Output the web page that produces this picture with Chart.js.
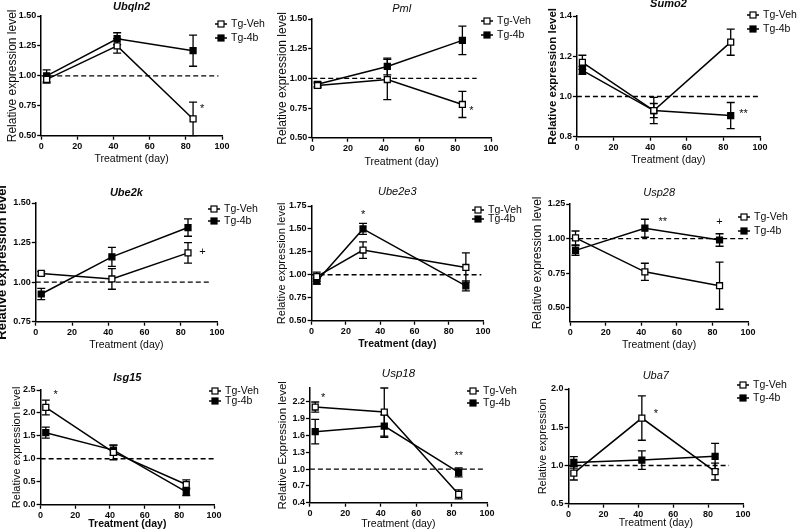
<!DOCTYPE html>
<html>
<head>
<meta charset="utf-8">
<script src="https://cdn.jsdelivr.net/npm/chart.js@4.4.1/dist/chart.umd.min.js"></script>
<style>
  html, body { margin: 0; padding: 0; background: #fff; }
  #fig { position: relative; width: 800px; height: 532px; overflow: hidden; background: #fff; }
  #fig canvas { position: absolute; }
</style>
</head>
<body>
<div id="fig"></div>
<script>
'use strict';

// Sampling days (x values).
const days = [3, 42, 84];
const daysUbe2e3 = [3, 30, 90];
const xTicks = [0, 20, 40, 60, 80, 100];
const seriesLabels = ['Tg-Veh', 'Tg-4b'];

// Means and SEM.
const ubqln2Veh = [0.97, 1.25, 0.64];
const ubqln2VehSem = [0.03, 0.06, 0.14];
const ubqln2Tg4b = [1.00, 1.31, 1.21];
const ubqln2Tg4bSem = [0.05, 0.05, 0.13];
const ubqln2Ticks = [0.5, 0.75, 1.0, 1.25, 1.5];
const ubqln2Marks = [{x: 89, y: 0.75, text: '*'}];

const pmlVeh = [0.94, 0.99, 0.78];
const pmlVehSem = [0.02, 0.17, 0.11];
const pmlTg4b = [0.95, 1.10, 1.32];
const pmlTg4bSem = [0.02, 0.07, 0.12];
const pmlTicks = [0.5, 0.75, 1.0, 1.25, 1.5];
const pmlMarks = [{x: 89, y: 0.75, text: '*'}];

const sumo2Veh = [1.17, 0.93, 1.27];
const sumo2VehSem = [0.035, 0.035, 0.065];
const sumo2Tg4b = [1.13, 0.93, 0.905];
const sumo2Tg4bSem = [0.02, 0.065, 0.065];
const sumo2Ticks = [0.8, 1.0, 1.2, 1.4];
const sumo2Marks = [{x: 91, y: 0.93, text: '**'}];

const ube2kVeh = [1.055, 1.02, 1.185];
const ube2kVehSem = [0.012, 0.065, 0.065];
const ube2kTg4b = [0.925, 1.16, 1.345];
const ube2kTg4bSem = [0.035, 0.06, 0.055];
const ube2kTicks = [0.75, 1.0, 1.25, 1.5];
const ube2kMarks = [{x: 92, y: 1.19, text: '+'}];

const ube2e3Veh = [0.98, 1.27, 1.08];
const ube2e3VehSem = [0.05, 0.09, 0.16];
const ube2e3Tg4b = [0.93, 1.50, 0.88];
const ube2e3Tg4bSem = [0.03, 0.06, 0.055];
const ube2e3Ticks = [0.5, 0.75, 1.0, 1.25, 1.5, 1.75];
const ube2e3Marks = [{x: 30, y: 1.69, text: '*'}];

const usp28Veh = [1.005, 0.76, 0.66];
const usp28VehSem = [0.05, 0.062, 0.17];
const usp28Tg4b = [0.915, 1.075, 0.99];
const usp28Tg4bSem = [0.035, 0.065, 0.045];
const usp28Ticks = [0.5, 0.75, 1.0, 1.25];
const usp28Marks = [{x: 52, y: 1.14, text: '**'}, {x: 84, y: 1.12, text: '+'}];

const isg15Veh = [2.12, 1.14, 0.44];
const isg15VehSem = [0.16, 0.16, 0.10];
const isg15Tg4b = [1.57, 1.19, 0.28];
const isg15Tg4bSem = [0.12, 0.11, 0.08];
const isg15Ticks = [0.0, 0.5, 1.0, 1.5, 2.0, 2.5];
const isg15Marks = [{x: 8.7, y: 2.45, text: '*'}];

const usp18Veh = [2.11, 2.02, 0.55];
const usp18VehSem = [0.09, 0.43, 0.08];
const usp18Tg4b = [1.67, 1.77, 0.94];
const usp18Tg4bSem = [0.22, 0.2, 0.08];
const usp18Ticks = [0.4, 0.7, 1.0, 1.3, 1.6, 1.9, 2.2];
const usp18Marks = [{x: 7.5, y: 2.33, text: '*'}, {x: 84, y: 1.29, text: '**'}];

const uba7Veh = [0.90, 1.62, 0.92];
const uba7VehSem = [0.09, 0.29, 0.11];
const uba7Tg4b = [1.04, 1.07, 1.12];
const uba7Tg4bSem = [0.075, 0.12, 0.17];
const uba7Ticks = [0.5, 1.0, 1.5, 2.0];
const uba7Marks = [{x: 50, y: 1.71, text: '*'}];

const FONT = '"Liberation Sans", Arial, sans-serif';
const INK = '#0a0a0a';
Chart.defaults.font.family = FONT;
Chart.defaults.color = INK;

/**
 * Error bars, drawn under the markers.
 */
const errorBars = {
    id: 'errorBars',
    beforeDatasetsDraw(chart) {
        const {ctx, scales: {x, y}} = chart;
        ctx.save();
        ctx.strokeStyle = '#000';
        ctx.lineWidth = 1.3;
        chart.data.datasets.forEach((ds) => {
            if (!ds.sem) {
                return;
            }
            ds.data.forEach((p, i) => {
                const px = x.getPixelForValue(p.x);
                const top = y.getPixelForValue(p.y + ds.sem[i]);
                const bot = y.getPixelForValue(p.y - ds.sem[i]);
                ctx.beginPath();
                ctx.moveTo(px, top);
                ctx.lineTo(px, bot);
                ctx.moveTo(px - 4, top);
                ctx.lineTo(px + 4, top);
                ctx.moveTo(px - 4, bot);
                ctx.lineTo(px + 4, bot);
                ctx.stroke();
            });
        });
        ctx.restore();
    },
};

/**
 * Gene title, legend and significance marks.
 */
const panelText = {
    id: 'panelText',
    afterDraw(chart, args, opts) {
        const {ctx, chartArea, scales: {x, y}} = chart;
        ctx.save();
        ctx.fillStyle = INK;
        ctx.textBaseline = 'middle';

        // Title.
        ctx.textAlign = 'center';
        ctx.font = opts.titleFont + ' ' + FONT;
        ctx.fillText(opts.title, (chartArea.left + chartArea.right) / 2, chartArea.top - opts.titleDy);

        // Legend.
        const lx = x.getPixelForValue(100) + opts.legendDx;
        let ly = chartArea.top + opts.legendDy;
        ctx.textAlign = 'left';
        ctx.font = '10.5px ' + FONT;
        seriesLabels.forEach((label, i) => {
            ctx.strokeStyle = '#000';
            ctx.lineWidth = 1.5;
            ctx.beginPath();
            ctx.moveTo(lx - 6, ly);
            ctx.lineTo(lx + 6, ly);
            ctx.stroke();
            ctx.fillStyle = i === 0 ? '#fff' : '#000';
            ctx.fillRect(lx - 3, ly - 3, 6, 6);
            ctx.lineWidth = 1.2;
            ctx.strokeRect(lx - 3, ly - 3, 6, 6);
            ctx.fillStyle = INK;
            ctx.fillText(label, lx + 10, ly);
            ly += opts.legendGap;
        });

        // Significance marks.
        ctx.textAlign = 'center';
        ctx.font = '11px ' + FONT;
        opts.marks.forEach((m) => {
            const shift = m.text.indexOf('*') >= 0 ? 3 : 0;
            ctx.fillText(m.text, x.getPixelForValue(m.x), y.getPixelForValue(m.y) + shift);
        });
        ctx.restore();
    },
};

const toPoints = (xs, ys) => xs.map((d, i) => ({x: d, y: ys[i]}));

/**
 * Build one panel: a canvas placed so its plot area lands where the figure has it.
 *
 * @param {Object} p Panel setup.
 */
const makePanel = (p) => {
    const yTitleLh = p.yTitleSize * 1.2;
    const xTitleLh = 10.5 * 1.2;
    const left = p.yTitleGap + yTitleLh / 2;
    const top = 22;
    const right = 70;
    const bottom = p.xTitleGap + xTitleLh / 2;

    const canvas = document.createElement('canvas');
    canvas.width = Math.round(left + (p.x100 - p.x0) + right);
    canvas.height = Math.round(top + (p.yBot - p.yTop) + bottom);
    canvas.style.left = (p.x0 - left) + 'px';
    canvas.style.top = (p.yTop - top) + 'px';
    document.getElementById('fig').appendChild(canvas);

    const decimals = p.decimals;
    new Chart(canvas, {
        type: 'line',
        data: {
            datasets: [
                {
                    label: seriesLabels[0],
                    data: toPoints(p.days, p.veh),
                    sem: p.vehSem,
                    borderColor: '#000',
                    borderWidth: 1.5,
                    pointStyle: 'rect',
                    pointRadius: 4.2,
                    pointBorderWidth: 1.3,
                    pointBackgroundColor: '#fff',
                    pointBorderColor: '#000',
                    clip: false,
                },
                {
                    label: seriesLabels[1],
                    data: toPoints(p.days, p.tg4b),
                    sem: p.tg4bSem,
                    borderColor: '#000',
                    borderWidth: 1.5,
                    pointStyle: 'rect',
                    pointRadius: 4.2,
                    pointBorderWidth: 1.3,
                    pointBackgroundColor: '#000',
                    pointBorderColor: '#000',
                    clip: false,
                },
                {
                    label: 'baseline',
                    data: [{x: 0, y: 1}, {x: p.dashEnd, y: 1}],
                    borderColor: '#000',
                    borderWidth: 1.4,
                    borderDash: [5, 3],
                    pointRadius: 0,
                },
            ],
        },
        options: {
            responsive: false,
            animation: false,
            events: [],
            devicePixelRatio: 1,
            layout: {padding: {left: 0, top: top, right: right, bottom: 0}},
            scales: {
                x: {
                    type: 'linear',
                    min: 0,
                    max: 100,
                    afterBuildTicks: (scale) => {
                        scale.ticks = xTicks.map((v) => ({value: v}));
                    },
                    afterFit: (scale) => {
                        scale.height = bottom;
                    },
                    grid: {drawOnChartArea: false, drawTicks: true, tickLength: 4, tickColor: '#000', tickWidth: 1.3},
                    border: {color: '#000', width: 1.5},
                    ticks: {font: {size: 9, weight: 'bold'}, padding: 1, maxRotation: 0, color: INK},
                    title: {
                        display: true,
                        text: 'Treatment (day)',
                        font: {size: 10.5, weight: p.xTitleWeight},
                        padding: 0,
                        color: INK,
                    },
                },
                y: {
                    type: 'linear',
                    min: p.yMin,
                    max: p.yMax,
                    afterBuildTicks: (scale) => {
                        scale.ticks = p.yTicks.map((v) => ({value: v}));
                    },
                    afterFit: (scale) => {
                        scale.width = left;
                    },
                    grid: {drawOnChartArea: false, drawTicks: true, tickLength: 4, tickColor: '#000', tickWidth: 1.3},
                    border: {color: '#000', width: 1.5},
                    ticks: {
                        font: {size: 9, weight: 'bold'},
                        padding: 1,
                        color: INK,
                        callback: (v) => Number(v).toFixed(decimals),
                    },
                    title: {
                        display: true,
                        text: p.yTitle,
                        font: {size: p.yTitleSize, weight: p.yTitleWeight},
                        padding: 0,
                        color: INK,
                    },
                },
            },
            plugins: {
                legend: {display: false},
                tooltip: {enabled: false},
                panelText: {
                    title: p.title,
                    titleFont: p.titleFont,
                    titleDy: p.titleDy,
                    legendDx: p.legendDx,
                    legendDy: p.legendDy,
                    legendGap: p.legendGap,
                    marks: p.marks,
                },
            },
        },
        plugins: [errorBars, panelText],
    });
};

const REL = 'Relative expression level';

makePanel({
    title: 'Ubqln2', titleFont: 'italic bold 11px', titleDy: 9,
    x0: 41, x100: 222, yTop: 16, yBot: 136,
    yMin: 0.5, yMax: 1.5, yTicks: ubqln2Ticks, decimals: 2, dashEnd: 98,
    yTitle: REL, yTitleSize: 12, yTitleWeight: 'normal', yTitleGap: 29,
    xTitleGap: 23, xTitleWeight: 'normal',
    legendDx: -1, legendDy: 8, legendGap: 14,
    days: days, veh: ubqln2Veh, vehSem: ubqln2VehSem, tg4b: ubqln2Tg4b, tg4bSem: ubqln2Tg4bSem,
    marks: ubqln2Marks,
});

makePanel({
    title: 'Pml', titleFont: 'italic 11px', titleDy: 10,
    x0: 312, x100: 491, yTop: 19, yBot: 138,
    yMin: 0.5, yMax: 1.5, yTicks: pmlTicks, decimals: 2, dashEnd: 92,
    yTitle: REL, yTitleSize: 12, yTitleWeight: 'normal', yTitleGap: 30,
    xTitleGap: 24, xTitleWeight: 'normal',
    legendDx: -4, legendDy: 2, legendGap: 14,
    days: days, veh: pmlVeh, vehSem: pmlVehSem, tg4b: pmlTg4b, tg4bSem: pmlTg4bSem,
    marks: pmlMarks,
});

makePanel({
    title: 'Sumo2', titleFont: 'italic bold 11px', titleDy: 12,
    x0: 577, x100: 760, yTop: 16, yBot: 137,
    yMin: 0.8, yMax: 1.4, yTicks: sumo2Ticks, decimals: 1, dashEnd: 100,
    yTitle: REL, yTitleSize: 11.5, yTitleWeight: 'bold', yTitleGap: 24,
    xTitleGap: 23, xTitleWeight: 'normal',
    legendDx: -7, legendDy: -1, legendGap: 14,
    days: days, veh: sumo2Veh, vehSem: sumo2VehSem, tg4b: sumo2Tg4b, tg4bSem: sumo2Tg4bSem,
    marks: sumo2Marks,
});

makePanel({
    title: 'Ube2k', titleFont: 'italic bold 11px', titleDy: 10,
    x0: 36, x100: 217, yTop: 203, yBot: 322,
    yMin: 0.75, yMax: 1.5, yTicks: ube2kTicks, decimals: 2, dashEnd: 97,
    yTitle: REL, yTitleSize: 13, yTitleWeight: 'bold', yTitleGap: 33,
    xTitleGap: 23, xTitleWeight: 'normal',
    legendDx: -3, legendDy: 6, legendGap: 12,
    days: days, veh: ube2kVeh, vehSem: ube2kVehSem, tg4b: ube2kTg4b, tg4bSem: ube2kTg4bSem,
    marks: ube2kMarks,
});

makePanel({
    title: 'Ube2e3', titleFont: 'italic 11px', titleDy: 14,
    x0: 312, x100: 483, yTop: 206, yBot: 321,
    yMin: 0.5, yMax: 1.75, yTicks: ube2e3Ticks, decimals: 2, dashEnd: 99,
    yTitle: REL, yTitleSize: 11, yTitleWeight: 'normal', yTitleGap: 30,
    xTitleGap: 23, xTitleWeight: 'bold',
    legendDx: -5, legendDy: 4, legendGap: 9,
    days: daysUbe2e3, veh: ube2e3Veh, vehSem: ube2e3VehSem, tg4b: ube2e3Tg4b, tg4bSem: ube2e3Tg4bSem,
    marks: ube2e3Marks,
});

makePanel({
    title: 'Usp28', titleFont: 'italic 11px', titleDy: 11,
    x0: 570, x100: 748, yTop: 204, yBot: 322,
    yMin: 0.4, yMax: 1.25, yTicks: usp28Ticks, decimals: 2, dashEnd: 100,
    yTitle: REL, yTitleSize: 12, yTitleWeight: 'normal', yTitleGap: 33,
    xTitleGap: 23, xTitleWeight: 'normal',
    legendDx: -4, legendDy: 13, legendGap: 14,
    days: days, veh: usp28Veh, vehSem: usp28VehSem, tg4b: usp28Tg4b, tg4bSem: usp28Tg4bSem,
    marks: usp28Marks,
});

makePanel({
    title: 'Isg15', titleFont: 'italic bold 11px', titleDy: 12,
    x0: 41, x100: 214, yTop: 390, yBot: 505,
    yMin: 0, yMax: 2.5, yTicks: isg15Ticks, decimals: 1, dashEnd: 100,
    yTitle: REL, yTitleSize: 11, yTitleWeight: 'normal', yTitleGap: 24,
    xTitleGap: 19, xTitleWeight: 'bold',
    legendDx: 1, legendDy: 1, legendGap: 10,
    days: days, veh: isg15Veh, vehSem: isg15VehSem, tg4b: isg15Tg4b, tg4bSem: isg15Tg4bSem,
    marks: isg15Marks,
});

makePanel({
    title: 'Usp18', titleFont: 'italic 11.5px', titleDy: 14,
    x0: 310, x100: 487, yTop: 388, yBot: 503,
    yMin: 0.4, yMax: 2.45, yTicks: usp18Ticks, decimals: 1, dashEnd: 99,
    yTitle: 'Relative Expression level', yTitleSize: 11.5, yTitleWeight: 'normal', yTitleGap: 27,
    xTitleGap: 21, xTitleWeight: 'normal',
    legendDx: -14, legendDy: 3, legendGap: 12,
    days: days, veh: usp18Veh, vehSem: usp18VehSem, tg4b: usp18Tg4b, tg4bSem: usp18Tg4bSem,
    marks: usp18Marks,
});

makePanel({
    title: 'Uba7', titleFont: 'italic 11px', titleDy: 13,
    x0: 569, x100: 743, yTop: 389, yBot: 504,
    yMin: 0.5, yMax: 2.0, yTicks: uba7Ticks, decimals: 1, dashEnd: 92,
    yTitle: 'Relative expression', yTitleSize: 11, yTitleWeight: 'normal', yTitleGap: 26,
    xTitleGap: 19, xTitleWeight: 'normal',
    legendDx: 0, legendDy: -4, legendGap: 13,
    days: days, veh: uba7Veh, vehSem: uba7VehSem, tg4b: uba7Tg4b, tg4bSem: uba7Tg4bSem,
    marks: uba7Marks,
});
</script>
</body>
</html>
